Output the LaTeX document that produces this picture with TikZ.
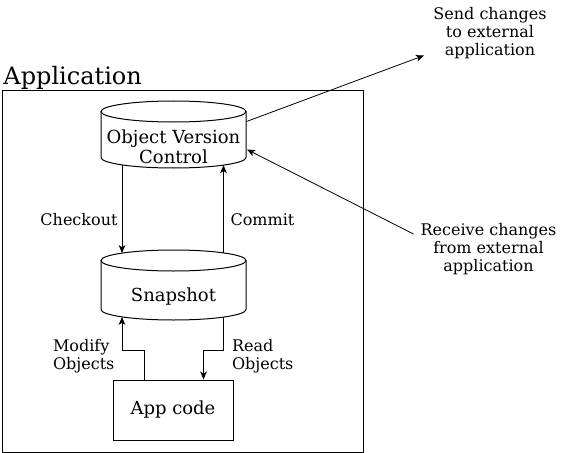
\documentclass[tikz,border=0pt]{standalone}
\usepackage{fontspec}
\setmainfont{DejaVu Serif}
\usetikzlibrary{arrows.meta}
\begin{document}
\begin{tikzpicture}[x=0.75pt,y=-0.75pt,
  line width=0.75pt,
  arr/.style={-{Stealth[length=6pt,width=5pt,inset=1.6pt]}},
  lbl/.style={font=\fontsize{12}{13.8}\selectfont,inner sep=0pt,align=center},
  nodetext/.style={font=\fontsize{13.5}{15}\selectfont,inner sep=0pt,align=center},
  cylbody/.style={draw,fill=white}]
\useasboundingbox (0,0) rectangle (564,453);
% outer application box
\node[draw,minimum width=271pt,minimum height=271.5pt,inner sep=0pt,anchor=north west] (appbox) at (2,90) {};
\node[font=\fontsize{18}{20}\selectfont,inner sep=0pt,anchor=base west] (applbl) at (3,84.3) {Application};
% Object Version Control cylinder
\draw (101,111.5) -- (101,157.5) arc[start angle=180,end angle=360,x radius=54.375pt,y radius=7.875pt] -- (246,111.5);
\draw (173.5,111.5) ellipse[x radius=54.375pt,y radius=7.875pt];
\node[nodetext] (ovc) at (173.5,146.5) {Object Version\\Control};
\coordinate (ovcL) at (122,164.9);
\coordinate (ovcR) at (223.5,165.1);
\coordinate (ovcout) at (246.5,121.5);
\coordinate (ovcin) at (247,149.5);
% Snapshot cylinder
\draw (101,260.5) -- (101,309.5) arc[start angle=180,end angle=360,x radius=54.375pt,y radius=7.875pt] -- (246,260.5);
\draw (173.5,260.5) ellipse[x radius=54.375pt,y radius=7.875pt];
\node[nodetext] (snap) at (173.5,297) {Snapshot};
\coordinate (snapTL) at (122,253.1);
\coordinate (snapTR) at (223.5,252.9);
\coordinate (snapBL) at (122,316.9);
\coordinate (snapBR) at (223.5,317.1);
% App code
\node[draw,nodetext,minimum width=90pt,minimum height=45pt] (app) at (173,410) {App code};
% connectors
\draw[arr] (app.north -| 144,0) |- (122,350.5) -- (snapBL);
\draw[arr] (snapBR) |- (203.5,350.5) -- (app.north -| 203.5,0);
\draw[arr] (ovcL) -- (snapTL);
\draw[arr] (snapTR) -- (ovcR);
\node[lbl] (checkout) at (79,219.5) {Checkout};
\node[lbl] (commit) at (262.5,219.5) {Commit};
\node[lbl,align=left,anchor=west] (modify) at (52.5,356) {Modify\\Objects};
\node[lbl,align=left,anchor=west] (read) at (231.5,356) {Read\\Objects};
% external
\node[lbl] (send) at (490,33) {Send changes\\to external\\application};
\node[lbl] (recv) at (488.5,249) {Receive changes\\from external\\application};
\coordinate (sendtip) at (424,55.5);
\coordinate (recvstart) at (413.5,234);
\draw[arr,line width=0.6pt] (ovcout) -- (sendtip);
\draw[arr,line width=0.6pt] (recvstart) -- (ovcin);
\end{tikzpicture}
\end{document}
